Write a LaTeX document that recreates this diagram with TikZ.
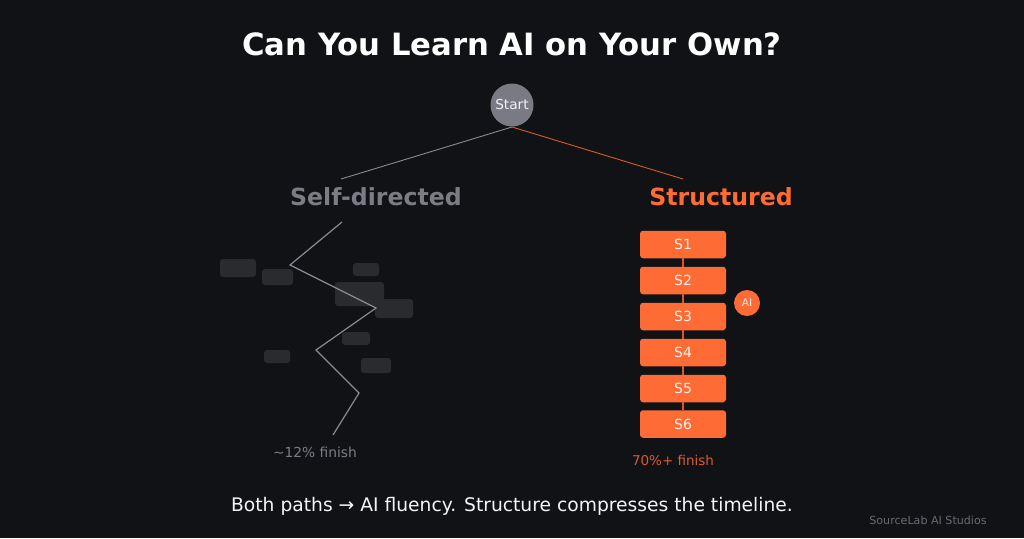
\documentclass[tikz,border=0pt]{standalone}
\usepackage{fontspec}
\setmainfont{DejaVu Sans}
\definecolor{bg}{HTML}{111216}
\definecolor{orng}{HTML}{FF6B35}
\definecolor{dorng}{HTML}{D65A2C}
\definecolor{gtxt}{HTML}{7C7C85}
\definecolor{gline}{HTML}{8A8A90}
\definecolor{gbox}{HTML}{2A2B2F}
\definecolor{startfill}{HTML}{7A7A85}
\definecolor{foot}{HTML}{6A6A70}
\tikzset{
  noise/.style={fill=gbox, rounded corners=3pt},
  stepbox/.style={fill=orng, rounded corners=3pt, minimum width=86pt, minimum height=27.5pt, inner sep=0pt, text=white!92!orng, font=\fontsize{14}{16}\selectfont},
}
\begin{document}
\begin{tikzpicture}[x=1pt,y=-1pt]
\fill[bg] (0,0) rectangle (1024,538);
\useasboundingbox (0,0) rectangle (1024,538);
\node[font=\fontsize{30.7}{36}\selectfont\bfseries, text=white] (title) at (512,44) {Can You Learn AI on Your Own?};
\node[circle, fill=startfill, minimum size=43pt, inner sep=0pt, text=white!90!gray, font=\fontsize{13.7}{16}\selectfont] (start) at (512,105) {Start};
\coordinate (sb) at (512,127);
\coordinate (lend) at (341,179);
\coordinate (rend) at (683,179);
\draw[gline, line width=0.9pt] (sb) -- (lend);
\draw[dorng, line width=0.9pt] (sb) -- (rend);
\node[font=\fontsize{23.6}{28}\selectfont\bfseries, text=gtxt] (self) at (376,197) {Self-directed};
\node[font=\fontsize{23.6}{28}\selectfont\bfseries, text=orng] (struct) at (721,197) {Structured};
% noise boxes
\fill[noise] (220,259) rectangle (256,277);
\fill[noise] (262,269) rectangle (293,285);
\fill[noise] (353,263) rectangle (379,276);
\fill[noise] (335,282) rectangle (384,306);
\fill[noise] (375,299) rectangle (413,318);
\fill[noise] (342,332) rectangle (370,345);
\fill[noise] (264,350) rectangle (290,363);
\fill[noise] (361,358) rectangle (391,373);
% zigzag
\coordinate (z0) at (342,222);
\coordinate (z1) at (290,265);
\coordinate (z2) at (376,308);
\coordinate (z3) at (316,350);
\coordinate (z4) at (359,393);
\coordinate (z5) at (333,435);
\draw[gline, line width=1.2pt] (z0) -- (z1) -- (z2) -- (z3) -- (z4) -- (z5);
\node[text=gtxt, font=\fontsize{13.8}{16}\selectfont] (p12) at (315,452) {\textasciitilde12\% finish};
% steps
\node[stepbox] (s1) at (683,244.5) {S1};
\node[stepbox] (s2) at (683,280.5) {S2};
\node[stepbox] (s3) at (683,316.5) {S3};
\node[stepbox] (s4) at (683,352.5) {S4};
\node[stepbox] (s5) at (683,388.5) {S5};
\node[stepbox] (s6) at (683,424) {S6};
\foreach \a/\b in {s1/s2,s2/s3,s3/s4,s4/s5,s5/s6}
  \draw[dorng, line width=1.2pt] (\a.south) -- (\b.north);
\node[circle, fill=orng, minimum size=26pt, inner sep=0pt, text=white!92!orng, font=\fontsize{10.5}{12}\selectfont] (ai) at (747,303) {AI};
\node[text=orng!85!black, font=\fontsize{13.5}{16}\selectfont] (p70) at (673,460) {70\%+ finish};
\node[text=white!92!gray, font=\fontsize{18.7}{22}\selectfont] (bottom) at (512,506) {Both paths → AI fluency. Structure compresses the timeline.};
\node[text=foot, font=\fontsize{11.1}{13}\selectfont] (brand) at (928,520) {SourceLab AI Studios};
\end{tikzpicture}
\end{document}
